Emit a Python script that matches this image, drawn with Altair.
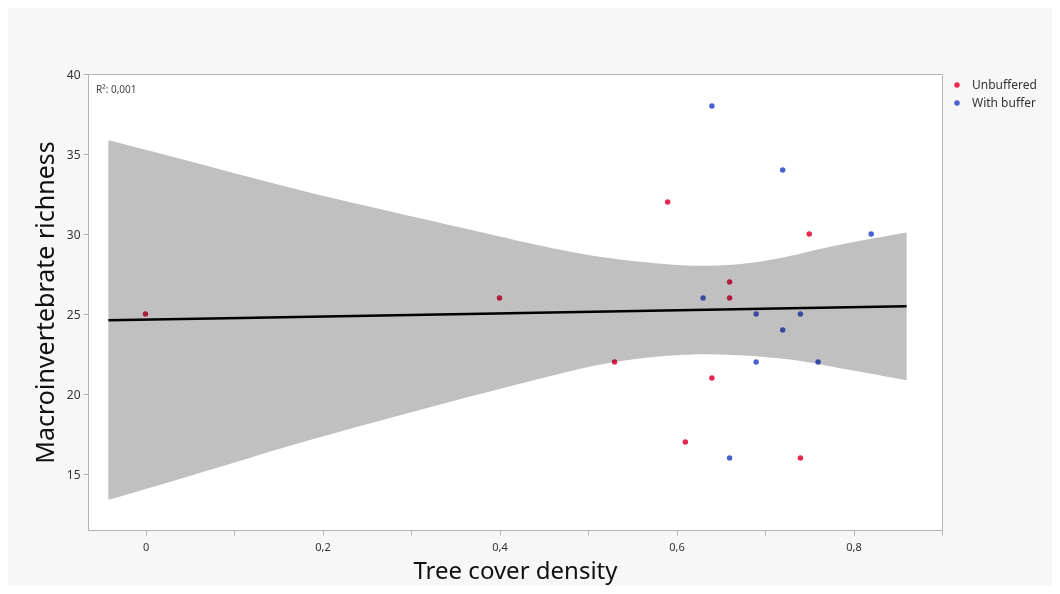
import altair as alt
import pandas as pd

# ---- data ----
groups = ["Unbuffered", "With buffer"]
colors = ["#e8284f", "#4a62d0"]

unbuf_x = [0.0, 0.40, 0.53, 0.59, 0.61, 0.64, 0.66, 0.66, 0.74, 0.75]
unbuf_y = [25, 26, 22, 32, 17, 21, 27, 26, 16, 30]
buf_x = [0.64, 0.72, 0.82, 0.63, 0.69, 0.74, 0.72, 0.69, 0.76, 0.66]
buf_y = [38, 34, 30, 26, 25, 25, 24, 22, 22, 16]

band_x = [-0.042, 0.05, 0.175, 0.313, 0.451, 0.53, 0.59, 0.636, 0.682, 0.728, 0.775, 0.86]
band_upper = [35.86, 34.55, 32.74, 30.95, 29.22, 28.45, 28.11, 28.01, 28.18, 28.62, 29.22, 30.09]
band_lower = [13.39, 14.88, 16.95, 19.05, 21.03, 22.0, 22.39, 22.49, 22.39, 22.15, 21.72, 20.86]

fit_x = [-0.042, 0.86]
fit_y = [24.61, 25.49]

r2_label = ["R\u00b2: 0,001"]
r2_pos_x = [-0.056]
r2_pos_y = [39.0]

x_ticks = [0, 0.1, 0.2, 0.3, 0.4, 0.5, 0.6, 0.7, 0.8, 0.9]
y_ticks = [15, 20, 25, 30, 35, 40]
x_domain = [-0.065, 0.9]
y_domain = [11.5, 40]

x_title = "Tree cover density"
y_title = "Macroinvertebrate richness"

# ---- tables ----
pts = pd.DataFrame({
    "x": unbuf_x + buf_x,
    "y": unbuf_y + buf_y,
    "g": [groups[0]] * len(unbuf_x) + [groups[1]] * len(buf_x),
})
band = pd.DataFrame({"x": band_x, "hi": band_upper, "lo": band_lower})
fit = pd.DataFrame({"x": fit_x, "y": fit_y})
r2 = pd.DataFrame({"x": r2_pos_x, "y": r2_pos_y, "t": r2_label})

FONT = "Noto Sans"
GREY = "#b4b4b4"

xscale = alt.Scale(domain=x_domain, nice=False, zero=False)
yscale = alt.Scale(domain=y_domain, nice=False, zero=False)

xaxis = alt.Axis(
    values=x_ticks,
    labelExpr="(round(datum.value*10) % 2 == 0) ? replace(format(datum.value, '.1~f'), '.', ',') : ''",
    title=x_title, titleFontSize=24, titleFont=FONT, titleFontWeight="normal",
    titleColor="#111", titlePadding=7,
    labelFont=FONT, labelFontSize=11, labelColor="#333", labelPadding=6,
    tickSize=5, tickColor=GREY, domainColor=GREY, grid=False,
)
yaxis = alt.Axis(
    values=y_ticks, format="d",
    title=y_title, titleFontSize=25, titleFont=FONT, titleFontWeight="normal",
    titleColor="#111", titlePadding=8,
    labelFont=FONT, labelFontSize=12, labelColor="#333", labelPadding=3,
    tickSize=5, tickColor=GREY, domainColor=GREY, grid=False,
)

points = alt.Chart(pts).mark_circle(size=30, opacity=1).encode(
    x=alt.X("x:Q", scale=xscale, axis=xaxis),
    y=alt.Y("y:Q", scale=yscale, axis=yaxis),
    color=alt.Color(
        "g:N",
        scale=alt.Scale(domain=groups, range=colors),
        legend=alt.Legend(
            title=None, orient="none", legendX=863, legendY=5,
            symbolType="circle", symbolSize=30, labelFont=FONT,
            labelFontSize=12, labelColor="#333", labelOffset=9,
            rowPadding=6, padding=0,
        ),
    ),
)

area = alt.Chart(band).mark_area(
    color="#c0c0c0", opacity=1, blend="multiply", interpolate="natural"
).encode(
    x=alt.X("x:Q", scale=xscale),
    y=alt.Y("hi:Q", scale=yscale),
    y2="lo:Q",
)

line = alt.Chart(fit).mark_line(color="black", strokeWidth=2.5).encode(
    x=alt.X("x:Q", scale=xscale),
    y=alt.Y("y:Q", scale=yscale),
)

label = alt.Chart(r2).mark_text(
    align="left", baseline="middle", font=FONT, fontSize=10, color="#444"
).encode(
    x=alt.X("x:Q", scale=xscale),
    y=alt.Y("y:Q", scale=yscale),
    text="t:N",
)

chart = alt.layer(points, area, line, label).properties(
    width=854,
    height=456,
    background="#f7f7f7",
    padding={"left": 80, "top": 66, "right": 110, "bottom": 56},
    autosize=alt.AutoSizeParams(type="none"),
).configure_view(
    fill="white", stroke=GREY, strokeWidth=1
)

chart.save("out.html", embed_options={"renderer": "svg", "actions": False})
